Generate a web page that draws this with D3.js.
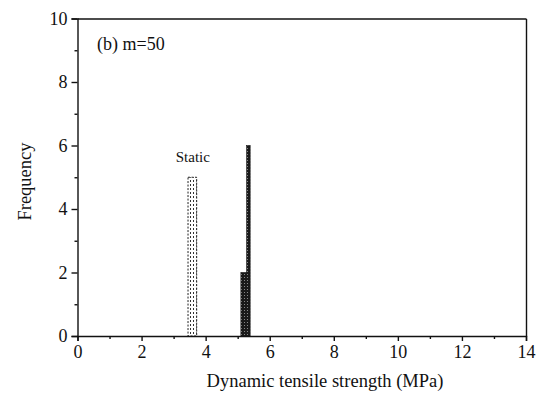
<!DOCTYPE html>
<html>
<head>
<meta charset="utf-8">
<script src="https://cdn.jsdelivr.net/npm/d3@7"></script>
<style>
  html, body { margin: 0; padding: 0; background: #fff; }
  svg { display: block; }
  text { font-family: "Liberation Serif", "Times New Roman", serif; fill: #111; }
</style>
</head>
<body>
<svg id="chart" width="537" height="393"></svg>
<script>
// Histogram bins: edges (MPa) and frequency per bin
const staticEdges = [3.45, 3.72];
const staticCounts = [5];
const dynamicEdges = [5.10, 5.28, 5.39];
const dynamicCounts = [2, 6];

const xMajorTicks = [0, 2, 4, 6, 8, 10, 12, 14];
const xMinorTicks = [1, 3, 5, 7, 9, 11, 13];
const yMajorTicks = [0, 2, 4, 6, 8, 10];
const yMinorTicks = [1, 3, 5, 7, 9];

const panelLabel = "(b) m=50";
const staticLabel = "Static";
const xTitle = "Dynamic tensile strength (MPa)";
const yTitle = "Frequency";

const svg = d3.select("#chart");
const margin = { left: 77.5, top: 18.5, right: 11, bottom: 57 };
const W = 537, H = 393;

const x = d3.scaleLinear().domain([0, 14]).range([margin.left, W - margin.right]);
const y = d3.scaleLinear().domain([0, 10]).range([H - margin.bottom, margin.top]);

// fill patterns for the two histograms
const defs = svg.append("defs");
const pStatic = defs.append("pattern")
  .attr("id", "dots").attr("patternUnits", "userSpaceOnUse")
  .attr("width", 3).attr("height", 4);
pStatic.append("rect").attr("width", 3).attr("height", 4).attr("fill", "#fff");
pStatic.append("rect").attr("x", 1).attr("y", 0).attr("width", 1).attr("height", 2).attr("fill", "#333");

const pDyn = defs.append("pattern")
  .attr("id", "dense").attr("patternUnits", "userSpaceOnUse")
  .attr("width", 3).attr("height", 3);
pDyn.append("rect").attr("width", 3).attr("height", 3).attr("fill", "#1a1a1a");
pDyn.append("rect").attr("x", 1).attr("y", 1).attr("width", 1).attr("height", 1).attr("fill", "#888");

function bins(edges, counts) {
  return counts.map((c, i) => ({ x0: edges[i], x1: edges[i + 1], n: c }));
}

// static histogram (stippled outline)
svg.append("g").selectAll("rect")
  .data(bins(staticEdges, staticCounts))
  .join("rect")
  .attr("x", d => x(d.x0))
  .attr("y", d => y(d.n))
  .attr("width", d => x(d.x1) - x(d.x0))
  .attr("height", d => y(0) - y(d.n))
  .attr("fill", "url(#dots)")
  .attr("stroke", "#222")
  .attr("stroke-width", 1)
  .attr("stroke-dasharray", "2,1.5");

// dynamic histogram (dark fill)
svg.append("g").selectAll("rect")
  .data(bins(dynamicEdges, dynamicCounts))
  .join("rect")
  .attr("x", d => x(d.x0))
  .attr("y", d => y(d.n))
  .attr("width", d => x(d.x1) - x(d.x0))
  .attr("height", d => y(0) - y(d.n))
  .attr("fill", "url(#dense)")
  .attr("stroke", "#111")
  .attr("stroke-width", 0.6);

// axes
const axisStyle = g => {
  g.selectAll("path, line").attr("stroke", "#111").attr("stroke-width", 1.4);
  g.selectAll("text").attr("font-size", 18).attr("font-family", "Liberation Serif, serif").attr("fill", "#111");
};

svg.append("g")
  .attr("transform", `translate(0,${y(0)})`)
  .call(d3.axisBottom(x).tickValues(xMajorTicks).tickSize(5).tickPadding(4).tickFormat(d3.format("d")))
  .call(axisStyle);
svg.append("g")
  .attr("transform", `translate(0,${y(0)})`)
  .call(d3.axisBottom(x).tickValues(xMinorTicks).tickSize(3).tickFormat(""))
  .call(axisStyle)
  .select(".domain").remove();

svg.append("g")
  .attr("transform", `translate(${x(0)},0)`)
  .call(d3.axisLeft(y).tickValues(yMajorTicks).tickSize(6).tickPadding(4).tickFormat(d3.format("d")))
  .call(axisStyle);
svg.append("g")
  .attr("transform", `translate(${x(0)},0)`)
  .call(d3.axisLeft(y).tickValues(yMinorTicks).tickSize(3).tickFormat(""))
  .call(axisStyle)
  .select(".domain").remove();

// top and right frame
svg.append("g")
  .attr("transform", `translate(0,${y(10)})`)
  .call(d3.axisTop(x).tickValues([]).tickSizeOuter(0))
  .call(axisStyle);
svg.append("g")
  .attr("transform", `translate(${x(14)},0)`)
  .call(d3.axisRight(y).tickValues([]).tickSizeOuter(0))
  .call(axisStyle);

// text labels
svg.append("text")
  .attr("x", 97).attr("y", 50)
  .attr("font-size", 18)
  .text(panelLabel);

svg.append("text")
  .attr("x", x(3.6)).attr("y", 162)
  .attr("text-anchor", "middle")
  .attr("font-size", 15)
  .text(staticLabel);

svg.append("text")
  .attr("x", 325).attr("y", 387)
  .attr("text-anchor", "middle")
  .attr("font-size", 18.5)
  .text(xTitle);

svg.append("text")
  .attr("transform", `translate(31,${181.5}) rotate(-90)`)
  .attr("text-anchor", "middle")
  .attr("font-size", 18.5)
  .text(yTitle);
</script>
</body>
</html>
